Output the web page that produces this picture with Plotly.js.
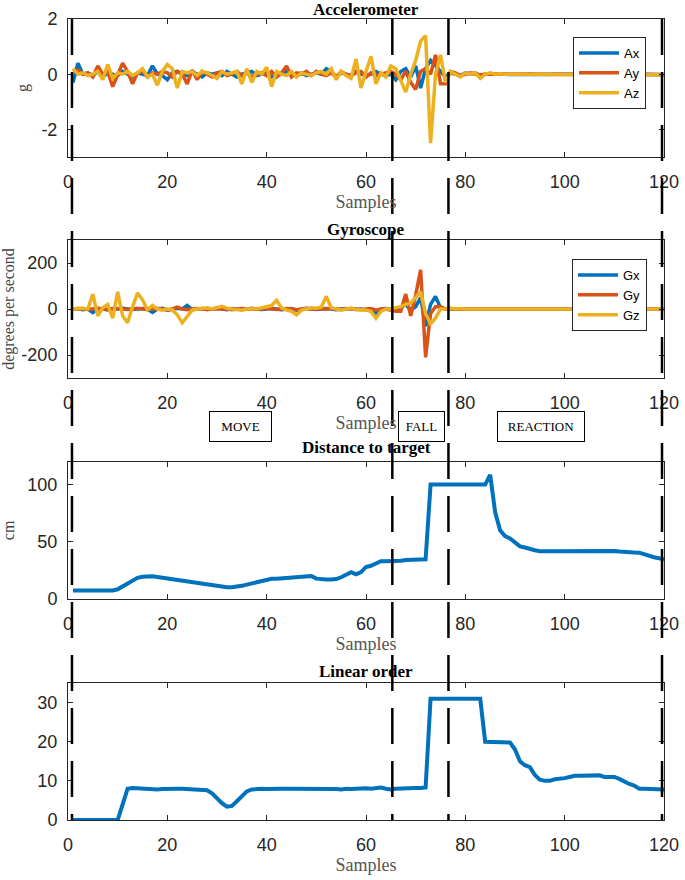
<!DOCTYPE html>
<html>
<head>
<meta charset="utf-8">
<script src="https://cdn.plot.ly/plotly-3.0.1.min.js"></script>
<style>
  html, body { margin: 0; padding: 0; background: #fff; }
  #chart { width: 685px; height: 880px; }
</style>
</head>
<body>
<div id="chart"></div>
<script>
// ---------------- data ----------------
const sampleCount = 120;
const samples = [];
for (let i = 1; i <= sampleCount; i++) samples.push(i);

const accelNames = ['Ax', 'Ay', 'Az'];
const gyroNames = ['Gx', 'Gy', 'Gz'];

const Ax = [-0.3,0.4,0.0,0.05,-0.05,0.1,-0.1,0.05,0.0,-0.05,
 0.1,0.0,-0.1,0.05,0.0,-0.05,0.3,0.0,-0.05,-0.2,
 0.05,0.1,0.0,-0.05,0.1,0.0,-0.1,0.05,0.0,0.05,
 -0.05,0.1,0.0,-0.1,0.0,0.05,0.1,-0.05,0.0,0.05,
 -0.1,0.05,0.0,0.1,-0.05,0.0,0.05,-0.05,0.0,0.05,
 0.0,0.2,0.1,-0.1,0.05,0.0,-0.05,0.1,0.0,-0.05,
 0.0,0.1,0.0,-0.05,0.0,-0.2,0.1,0.2,-0.1,0.3,
 -0.5,0.2,0.5,0.3,0.1,-0.1,0.05,0.0,-0.05,0.05,
 0.0,0.05,-0.05,0.0,0.02,0.0,0.01,0.0,-0.01,0.0,
 0.01,0.0,0.0,-0.01,0.0,0.01,0.0,0.0,0.0,0.01,
 0.0,-0.01,0.0,0.0,0.01,0.0,0.0,-0.01,0.0,0.0,
 0.01,0.0,0.0,0.0,-0.01,0.0,0.0,0.01,0.0,-0.02];

const Ay = [0.1,0.15,0.0,0.05,-0.1,0.3,0.0,0.1,-0.45,0.0,
 0.4,0.1,-0.35,0.05,0.1,-0.1,0.05,0.0,0.1,0.05,
 -0.1,0.1,0.0,-0.35,0.15,-0.2,0.1,0.0,-0.1,0.05,
 0.1,-0.05,0.0,0.1,-0.05,0.05,-0.1,0.0,0.05,-0.05,
 0.1,-0.1,0.05,0.3,-0.1,0.05,0.0,0.1,-0.05,0.1,
 0.0,-0.05,0.05,-0.1,0.1,0.0,-0.05,0.05,0.1,-0.1,
 0.05,-0.05,0.0,0.05,0.1,0.0,-0.2,0.1,-0.3,-0.55,
 0.1,0.2,0.0,0.7,-0.35,-0.35,0.1,0.05,-0.05,0.0,
 0.05,0.0,-0.02,0.0,0.01,0.0,0.0,0.01,0.0,-0.01,
 0.0,0.0,0.01,0.0,0.0,0.0,-0.01,0.0,0.0,0.01,
 0.0,0.0,0.0,0.01,0.0,-0.01,0.0,0.0,0.0,0.01,
 0.0,0.0,-0.01,0.0,0.0,0.01,0.0,0.0,0.0,-0.01];

const Az = [0.2,0.0,0.05,-0.05,0.0,0.1,-0.2,0.35,-0.15,0.05,
 0.0,0.1,-0.05,0.05,0.2,-0.1,0.0,-0.4,0.1,0.35,
 0.2,-0.5,0.1,0.05,0.1,-0.05,0.1,0.05,-0.05,-0.15,
 0.1,0.0,0.05,0.1,-0.35,0.2,-0.3,0.1,0.0,0.25,
 -0.45,0.1,0.0,-0.05,0.1,-0.1,0.05,0.0,-0.05,0.05,
 0.1,0.0,0.2,-0.2,0.1,-0.05,-0.15,0.55,-0.5,0.1,
 0.65,-0.35,0.05,-0.1,0.3,0.2,-0.2,-0.65,0.0,0.5,
 1.2,1.4,-2.5,0.0,0.7,-0.3,0.1,0.0,-0.1,0.05,
 0.0,0.05,-0.15,0.0,0.05,0.0,0.02,0.0,0.0,0.01,
 0.0,0.0,0.0,0.0,0.01,0.0,0.0,0.0,0.0,0.0,
 0.01,0.0,0.0,0.0,0.0,0.0,0.0,0.01,0.0,0.0,
 0.0,0.0,0.0,0.0,0.0,0.0,0.01,0.0,0.0,-0.02];

const Gx = [0,2,-3,0,-15,2,0,-3,2,0,
 3,0,-2,0,2,0,-15,0,3,-5,
 0,3,0,15,-3,0,2,-2,0,3,
 0,-3,2,0,-2,0,3,0,-2,0,
 2,0,-3,0,2,-5,0,3,0,-2,
 0,2,0,-3,0,2,0,-2,0,-5,
 -8,-18,0,2,0,-3,5,20,-5,10,
 50,-75,20,55,5,0,2,0,-1,0,
 0,1,0,0,-1,0,0,1,0,0,
 0,0,1,0,0,0,-1,0,0,0,
 0,1,0,0,0,0,0,-1,0,0,
 0,0,0,1,0,0,0,0,0,0];

const Gy = [0,0,2,-2,0,3,0,-3,0,2,
 0,-2,0,3,0,-2,0,2,0,-5,
 0,8,0,-3,0,2,0,-2,0,0,
 2,0,-3,0,2,0,0,-2,0,3,
 0,-2,0,2,0,-3,0,2,0,0,
 -2,0,3,0,-2,0,2,0,-3,0,
 2,-5,0,0,-5,-10,-10,65,-30,60,
 170,-210,-20,10,10,0,0,1,0,0,
 0,0,0,1,0,0,0,0,-1,0,
 0,0,0,0,0,1,0,0,0,0,
 0,0,-1,0,0,0,0,0,1,0,
 0,0,0,0,0,0,0,0,0,0];

const Gz = [0,3,2,0,65,-30,5,20,-40,75,
 -30,-60,10,70,40,-3,15,0,-5,0,
 -3,-25,-60,-30,-5,0,3,5,0,8,
 12,3,0,-3,-5,0,2,0,5,8,
 15,38,5,-5,-10,-25,-5,0,5,3,
 8,55,5,0,-5,0,3,-2,-3,-5,
 -10,-40,-10,0,0,5,10,20,25,50,
 75,-20,-65,-40,0,0,3,0,2,0,
 0,1,0,0,0,-1,0,0,0,0,
 0,0,0,1,0,0,0,0,0,0,
 -1,0,0,0,0,0,1,0,0,0,
 0,0,0,0,0,0,0,0,0,0];

const distanceCm = [7.5,7.5,7.5,7.5,7.5,7.5,7.5,7.5,7.5,8.5,
 11,14,16.5,18.5,19.5,20,19.8,19.2,18.5,17.8,
 17.2,16.5,16,15.5,14.8,14,13.2,12.5,11.8,11.2,
 10.7,10.3,10.2,10.5,11.5,12.6,13.7,14.7,15.5,16.2,
 17.6,17.8,18.2,18.6,19,19.5,20,20.2,20,17.8,
 17.2,17,17,17.4,19,21,23.5,21.5,23.5,28,
 29,31,33,33,33,33,33.5,34,34.2,34.5,
 34.5,34.7,100,100,100,100,100,100,100,100,
 100,100,100,100,108.5,76,60,55,53,50,
 46,45,43.5,42.6,41.8,41.8,42,42,42,42.2,
 42.4,42.6,42.6,42.5,42.3,42.1,42,42.2,42.1,42,
 41.5,41,40.8,40.6,40.5,39,37.6,36.5,35.6,34.7];

const linearOrder = [0,0,0,0,0,0,0,0,0,0,
 4,8,8.2,8.1,8,7.8,7.8,7.8,7.9,8,
 8,8,8,7.9,7.8,7.6,7.6,7.6,6.8,5.5,
 4.3,3.4,3.6,4.8,6.2,7.3,7.8,8,8,7.9,
 8,8,8,8,8,8,8,8,8,8,
 8.1,8,8,7.9,7.8,8,7.9,8,8,8.1,
 8,8.1,8.3,8,7.8,8,8.1,8.1,8.2,8.2,
 8.2,8.3,31,31,31,31,31,31,31,31,
 31,31,31,20,20,19.9,20,20,19.8,18,
 15,14,13.5,11.5,10.3,10,10,10.4,10.5,10.7,
 11,11.3,11.3,11.3,11.2,11.2,11.4,11,11,11,
 10.5,9.7,9.2,8.8,8,8,8,8,8,7.8];

const phaseMarkers = [0.8, 65.3, 76.6, 119.6];
const phaseLabels = ['MOVE', 'FALL', 'REACTION'];
const phaseLabelCenters = [34.7, 71.2, 95.2];

const panelTitles = ['Accelerometer', 'Gyroscope', 'Distance to target', 'Linear order'];
const yTitles = ['g', 'degrees per second', 'cm', ''];
const xTitle = 'Samples';
const xTickVals = [0, 20, 40, 60, 80, 100, 120];
const yTickVals = [[-2, 0, 2], [-200, 0, 200], [0, 50, 100], [0, 10, 20, 30]];
const yTickText = [['-2', '0', '2'], ['-200', '0', '200'], ['0', '50', '100'], ['0', '10', '20', '30']];

// ---------------- styling ----------------
const colors = ['#0072BD', '#D95319', '#EDB120'];
const H = 880;
const domains = [[157, 19], [378, 240], [599, 461.7], [820, 683]]
  .map(([b, t]) => [1 - b / H, 1 - t / H]);
const yRanges = [[-3, 2], [-300, 300], [0, 120], [0, 35]];
const titleY = [9.5, 229, 448, 671];

const axisCol = '#262626';
const tickFont = { family: 'Liberation Sans, Arial, sans-serif', size: 18, color: axisCol };
const serif = 'Liberation Serif, Times New Roman, serif';

const traces = [];
[Ax, Ay, Az].forEach((arr, i) => traces.push({
  x: samples, y: arr, type: 'scatter', mode: 'lines', name: accelNames[i],
  line: { color: colors[i], width: 3.5 }, xaxis: 'x', yaxis: 'y', legend: 'legend'
}));
[Gx, Gy, Gz].forEach((arr, i) => traces.push({
  x: samples, y: arr, type: 'scatter', mode: 'lines', name: gyroNames[i],
  line: { color: colors[i], width: 3.5 }, xaxis: 'x2', yaxis: 'y2', legend: 'legend2'
}));
traces.push({ x: samples, y: distanceCm, type: 'scatter', mode: 'lines', name: 'Distance',
  line: { color: colors[0], width: 4 }, xaxis: 'x3', yaxis: 'y3', showlegend: false });
traces.push({ x: samples, y: linearOrder, type: 'scatter', mode: 'lines', name: 'Linear order',
  line: { color: colors[0], width: 4 }, xaxis: 'x4', yaxis: 'y4', showlegend: false });

const layout = {
  width: 685, height: 880,
  margin: { l: 68, r: 21, t: 0, b: 0 },
  paper_bgcolor: '#fff', plot_bgcolor: '#fff',
  showlegend: true,
  annotations: [], shapes: []
};

for (let k = 0; k < 4; k++) {
  const sx = k === 0 ? '' : String(k + 1);
  layout['xaxis' + sx] = {
    domain: [0, 1], anchor: 'y' + sx, range: [0, 120], tickvals: xTickVals,
    showline: true, mirror: 'ticks', linecolor: axisCol, linewidth: 1,
    ticks: 'inside', ticklen: 5, tickcolor: axisCol, showgrid: false, zeroline: false,
    tickfont: tickFont, ticklabelstandoff: 8,
    title: { text: xTitle, standoff: 2, font: { family: serif, size: 18, color: '#555' } }
  };
  layout['yaxis' + sx] = {
    domain: domains[k], anchor: 'x' + sx, range: yRanges[k],
    tickvals: yTickVals[k], ticktext: yTickText[k],
    showline: true, mirror: 'ticks', linecolor: axisCol, linewidth: 1,
    ticks: 'inside', ticklen: 5, tickcolor: axisCol, showgrid: false, zeroline: false,
    tickfont: tickFont, ticklabelstandoff: 6,
    title: { text: yTitles[k], standoff: 8, font: { family: serif, size: 16, color: '#444' } }
  };
  layout.annotations.push({
    text: '<b>' + panelTitles[k] + '</b>', xref: 'paper', yref: 'paper',
    x: 0.5, y: 1 - titleY[k] / H, xanchor: 'center', yanchor: 'middle', showarrow: false,
    font: { family: serif, size: 17, color: '#000' }
  });
}

const boxWidths = [61, 45, 86];
phaseLabels.forEach((t, i) => layout.annotations.push({
  text: t, xref: 'x', yref: 'paper', x: phaseLabelCenters[i], y: 1 - 426.5 / H,
  xanchor: 'center', yanchor: 'middle', showarrow: false,
  font: { family: serif, size: 13, color: '#000' },
  bordercolor: '#000', borderwidth: 1, borderpad: 0, bgcolor: 'rgba(255,255,255,0)',
  width: boxWidths[i], height: 29
}));

phaseMarkers.forEach(xv => layout.shapes.push({
  type: 'line', xref: 'x', yref: 'paper', x0: xv, x1: xv,
  y0: domains[0][1], y1: domains[3][0],
  line: { color: '#000', width: 2.5, dash: '36px,17px' }, layer: 'above'
}));

const legendStyle = {
  xanchor: 'left', yanchor: 'top', bgcolor: '#fff', bordercolor: axisCol, borderwidth: 1,
  font: { family: 'Liberation Sans, Arial, sans-serif', size: 13, color: '#000' },
  itemwidth: 40, tracegroupgap: 0
};
layout.legend = Object.assign({ x: (573 - 68) / 596, y: 1 - 37 / H }, legendStyle);
layout.legend2 = Object.assign({ x: (572 - 68) / 596, y: 1 - 259 / H }, legendStyle);

Plotly.newPlot('chart', traces, layout, { displayModeBar: false, staticPlot: true });
</script>
</body>
</html>
